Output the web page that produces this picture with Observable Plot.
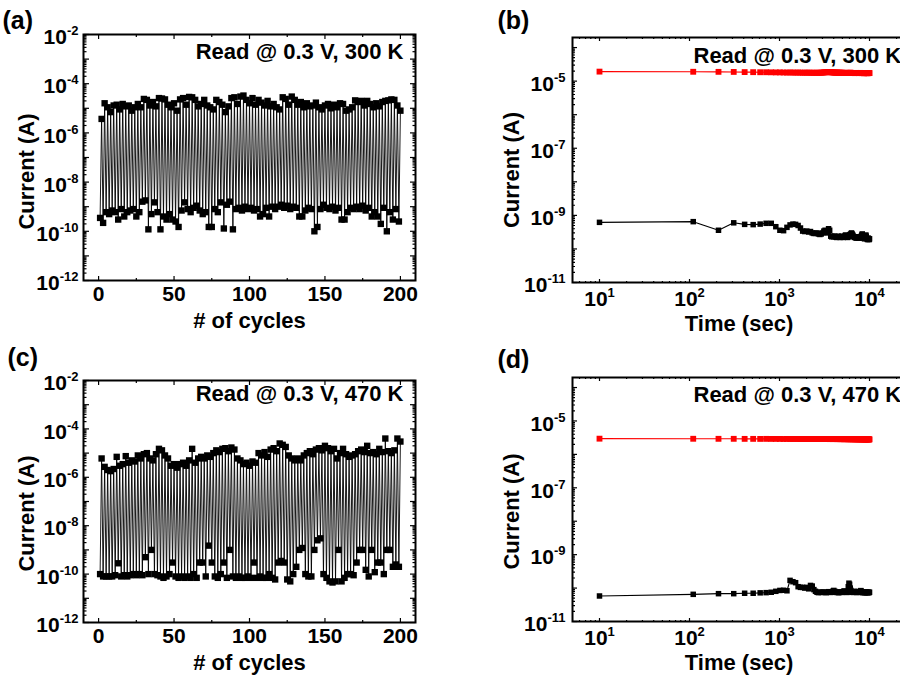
<!DOCTYPE html>
<html><head><meta charset="utf-8">
<script src="https://cdn.jsdelivr.net/npm/d3@7"></script>
<script src="https://cdn.jsdelivr.net/npm/@observablehq/plot@0.6"></script>
<style>
html,body{margin:0;padding:0;background:#fff;overflow:hidden;}
#wrap{position:relative;width:900px;height:678px;overflow:hidden;background:#fff;}
#wrap svg{position:absolute;overflow:visible;}
</style></head><body><div id="wrap"></div>
<script>
// ---------- DATA ----------
// Panel (a): endurance at 300 K. Low state read at odd cycles, high state at even cycles.
const aHigh = [3.7e-6,1.6e-5,1.1e-5,7e-6,1.3e-5,1.4e-5,9e-6,1.5e-5,1.2e-5,1.3e-5,
  8e-6,1.1e-5,1.5e-5,1.1e-5,2.4e-5,2.2e-5,1.3e-5,1.8e-5,1.2e-5,2.6e-5,
  2.5e-5,2.3e-5,1.4e-5,1.1e-5,1.6e-5,8e-6,2.3e-5,2.6e-5,1.4e-5,2.9e-5,
  2.8e-5,2.2e-5,1.2e-5,1.5e-5,2.2e-5,1.3e-5,1.1e-5,9e-6,2.2e-5,1.8e-5,
  1.4e-5,7e-6,1.2e-5,2.6e-5,2.8e-5,1.5e-5,3.0e-5,3.3e-5,2.2e-5,1.6e-5,
  2.6e-5,1.4e-5,2.2e-5,1.7e-5,1.3e-5,2.0e-5,1.2e-5,1.5e-5,1.1e-5,9e-6,
  2.8e-5,2.4e-5,1.4e-5,3.0e-5,2.2e-5,1.4e-5,1.8e-5,1.1e-5,1.6e-5,1.2e-5,
  1.3e-5,1.7e-5,1.1e-5,9e-6,1.3e-5,1.5e-5,1.0e-5,1.4e-5,1.1e-5,1.6e-5,
  1.5e-5,8e-6,9e-6,1.1e-5,2.1e-5,1.8e-5,2.0e-5,1.3e-5,2.0e-5,1.5e-5,
  1.1e-5,1.6e-5,1.2e-5,1.8e-5,2.0e-5,2.1e-5,2.3e-5,2.2e-5,1.3e-5,8e-6];
const aLow = [3.5e-10,2.2e-10,6e-10,5e-10,7e-10,6e-10,3e-10,8e-10,4e-10,6e-10,
  7e-10,8e-10,4e-10,6e-10,1.6e-9,1.8e-9,1.2e-10,5e-10,1.5e-9,6e-10,
  1.2e-10,4e-10,3e-10,5e-10,3e-10,2.5e-10,1.5e-10,7e-10,1.5e-9,8e-10,
  6e-10,9e-10,1.1e-9,7e-10,5e-10,6e-10,1.5e-10,1.5e-10,8e-10,6e-10,
  1.5e-9,1.3e-10,1.2e-9,1.6e-9,1.2e-10,8e-10,9e-10,7e-10,1e-9,8e-10,
  9e-10,7e-10,8e-10,4e-10,5e-10,9e-10,4e-10,1e-9,8e-10,1e-9,
  1.2e-9,9e-10,1.1e-9,8e-10,1e-9,9e-10,4e-10,4e-10,7e-10,9e-10,
  8e-10,1e-10,1.5e-10,8e-10,1.2e-9,9e-10,8e-10,1e-9,7e-10,9e-10,
  3e-10,3e-10,6e-10,9e-10,8e-10,1e-9,8e-10,1.1e-9,7e-10,9e-10,
  4e-10,6e-10,4e-10,2e-10,9e-10,1e-10,6e-10,3e-10,8e-10,2.5e-10];

// Panel (c): endurance at 470 K.
const cHigh = [6e-6,2.7e-6,2e-6,1.8e-6,2.2e-6,7e-6,3e-6,3.5e-6,7.5e-6,4e-6,
  5e-6,4.5e-6,8e-6,6e-6,9e-6,1e-5,6e-6,5e-6,9e-6,1.5e-5,
  1.3e-5,8e-6,6e-6,3e-6,3.5e-6,2.5e-6,3.5e-6,4e-6,3e-6,5e-6,
  1.5e-5,4e-6,6e-6,7e-6,6e-6,8e-6,7e-6,1e-5,1.3e-5,1.1e-5,
  1.5e-5,1.6e-5,1.2e-5,1.7e-5,1.4e-5,6e-6,5e-6,3.5e-6,4e-6,3e-6,
  4.5e-6,4e-6,1e-5,8e-6,1.1e-5,7e-6,1.4e-5,1.6e-5,1.2e-5,2.5e-5,
  2.2e-5,1.8e-5,8e-6,6e-6,5e-6,6e-6,5e-6,8e-6,1e-5,1.2e-5,
  9e-6,1.4e-5,1.6e-5,1.3e-5,2e-5,1.6e-5,1.2e-5,1.5e-5,6e-6,1e-5,
  1.5e-5,9e-6,7e-6,8e-6,9e-6,1.2e-5,1.4e-5,1.1e-5,2e-5,1e-5,
  1.1e-5,9e-6,1.5e-5,1.1e-5,4e-5,1.2e-5,1e-5,1.3e-5,4e-5,3e-5];
const cLow = [1e-10,8e-11,8e-11,8e-11,8e-11,9e-11,2.8e-10,8e-11,9e-11,8e-11,
  9e-11,1e-10,9e-11,1e-10,9e-11,5e-10,1e-10,1e-9,1e-10,9e-11,
  8e-11,7e-11,8e-11,1e-10,3e-10,8e-11,7e-11,8e-11,7e-11,8e-11,
  7e-11,1e-10,7e-11,3e-10,3e-10,8e-11,1.5e-9,3e-10,8e-11,7e-11,
  1e-10,3e-10,7e-11,1e-9,8e-11,7e-11,8e-11,7e-11,7e-11,8e-11,
  7e-11,3e-10,7e-11,8e-11,7e-11,7e-11,1e-10,7e-11,6e-11,3e-10,
  3.5e-10,3e-10,6e-11,5e-11,1e-10,2e-10,1e-9,1.2e-9,1e-10,8e-11,
  8e-11,1e-9,2.5e-9,3e-9,1e-10,7e-11,5e-11,4.5e-11,5e-11,1e-9,
  5e-11,7e-11,1e-10,1e-10,9e-11,3e-10,1e-9,1e-9,1.5e-10,8e-11,
  1e-9,1.2e-10,3e-10,3e-10,1e-10,1e-9,1e-9,2e-10,2.5e-10,2e-10];

// Panels (b) and (d): retention, time in seconds.
const times = [10,110,210,310,410,510,610,710,810,910,1010,1110,1210,1310,1410,1510,1610,1710,1810,1910,
  2010,2110,2210,2310,2410,2510,2610,2710,2810,2910,3010,3110,3210,3310,3410,3510,3610,3710,3810,3910,
  4010,4110,4210,4310,4410,4510,4610,4710,4810,4910,5010,5110,5210,5310,5410,5510,5610,5710,5810,5910,
  6010,6110,6210,6310,6410,6510,6610,6710,6810,6910,7010,7110,7210,7310,7410,7510,7610,7710,7810,7910,
  8010,8110,8210,8310,8410,8510,8610,8710,8810,8910,9010,9110,9210,9310,9410,9510,9610,9710,9810,9910,10010];
const bHigh = [1.92e-5,1.90e-5,1.89e-5,1.88e-5,1.86e-5,1.85e-5,1.84e-5,1.84e-5,1.83e-5,1.82e-5,
  1.82e-5,1.81e-5,1.80e-5,1.81e-5,1.80e-5,1.79e-5,1.80e-5,1.79e-5,1.78e-5,1.79e-5,
  1.78e-5,1.79e-5,1.78e-5,1.77e-5,1.78e-5,1.77e-5,1.78e-5,1.77e-5,1.78e-5,1.79e-5,
  1.80e-5,1.82e-5,1.83e-5,1.84e-5,1.85e-5,1.86e-5,1.85e-5,1.84e-5,1.83e-5,1.82e-5,
  1.81e-5,1.80e-5,1.79e-5,1.80e-5,1.79e-5,1.78e-5,1.79e-5,1.78e-5,1.77e-5,1.78e-5,
  1.77e-5,1.76e-5,1.77e-5,1.76e-5,1.77e-5,1.76e-5,1.75e-5,1.76e-5,1.75e-5,1.76e-5,
  1.77e-5,1.78e-5,1.77e-5,1.76e-5,1.75e-5,1.74e-5,1.75e-5,1.74e-5,1.73e-5,1.74e-5,
  1.75e-5,1.76e-5,1.75e-5,1.74e-5,1.75e-5,1.74e-5,1.73e-5,1.74e-5,1.75e-5,1.76e-5,
  1.75e-5,1.74e-5,1.73e-5,1.74e-5,1.75e-5,1.74e-5,1.73e-5,1.72e-5,1.73e-5,1.74e-5,
  1.75e-5,1.74e-5,1.73e-5,1.74e-5,1.73e-5,1.72e-5,1.73e-5,1.74e-5,1.73e-5,1.74e-5,1.74e-5];
const bLow = [6.2e-10,6.5e-10,3.6e-10,6.0e-10,5.4e-10,5.3e-10,5.5e-10,5.8e-10,5.8e-10,4.6e-10,
  3.6e-10,3.5e-10,4.4e-10,5.2e-10,5.5e-10,5.4e-10,5.0e-10,4.2e-10,3.4e-10,3.3e-10,
  3.4e-10,3.2e-10,3.3e-10,3.0e-10,2.9e-10,2.9e-10,3.0e-10,2.8e-10,2.7e-10,2.8e-10,
  3.0e-10,3.4e-10,3.6e-10,3.3e-10,3.0e-10,4.0e-10,3.6e-10,2.4e-10,2.3e-10,2.4e-10,
  2.3e-10,2.4e-10,2.3e-10,2.2e-10,2.3e-10,2.4e-10,2.3e-10,2.2e-10,2.3e-10,2.4e-10,
  2.3e-10,2.2e-10,2.3e-10,2.4e-10,2.6e-10,2.5e-10,2.3e-10,2.2e-10,2.3e-10,2.4e-10,
  2.6e-10,2.7e-10,2.8e-10,3.0e-10,2.8e-10,2.6e-10,2.4e-10,2.3e-10,2.2e-10,2.3e-10,
  2.2e-10,2.1e-10,2.2e-10,2.3e-10,2.2e-10,2.1e-10,2.2e-10,2.3e-10,2.2e-10,2.1e-10,
  2.2e-10,2.4e-10,2.6e-10,2.8e-10,2.5e-10,2.3e-10,2.2e-10,2.1e-10,2.0e-10,2.1e-10,
  2.2e-10,2.6e-10,2.4e-10,2.1e-10,2.0e-10,1.9e-10,2.0e-10,2.1e-10,2.0e-10,1.9e-10,2.0e-10];
const dHigh = [2.95e-6,2.93e-6,2.92e-6,2.92e-6,2.91e-6,2.91e-6,2.90e-6,2.91e-6,2.90e-6,2.90e-6,
  2.90e-6,2.89e-6,2.90e-6,2.89e-6,2.89e-6,2.90e-6,2.89e-6,2.88e-6,2.89e-6,2.88e-6,
  2.89e-6,2.88e-6,2.88e-6,2.89e-6,2.88e-6,2.87e-6,2.88e-6,2.88e-6,2.87e-6,2.88e-6,
  2.87e-6,2.88e-6,2.87e-6,2.87e-6,2.88e-6,2.87e-6,2.86e-6,2.87e-6,2.87e-6,2.86e-6,
  2.87e-6,2.86e-6,2.87e-6,2.86e-6,2.86e-6,2.87e-6,2.86e-6,2.85e-6,2.86e-6,2.86e-6,
  2.85e-6,2.86e-6,2.85e-6,2.86e-6,2.85e-6,2.85e-6,2.86e-6,2.85e-6,2.84e-6,2.85e-6,
  2.85e-6,2.84e-6,2.85e-6,2.84e-6,2.85e-6,2.84e-6,2.84e-6,2.85e-6,2.84e-6,2.83e-6,
  2.84e-6,2.84e-6,2.83e-6,2.84e-6,2.83e-6,2.84e-6,2.83e-6,2.83e-6,2.84e-6,2.83e-6,
  2.82e-6,2.83e-6,2.83e-6,2.82e-6,2.83e-6,2.82e-6,2.83e-6,2.82e-6,2.82e-6,2.83e-6,
  2.82e-6,2.81e-6,2.82e-6,2.82e-6,2.81e-6,2.82e-6,2.81e-6,2.82e-6,2.81e-6,2.81e-6,2.81e-6];
const dLow = [5.8e-11,6.5e-11,6.8e-11,6.8e-11,7.0e-11,7.0e-11,7.2e-11,7.3e-11,7.5e-11,8.0e-11,
  8.5e-11,8.6e-11,8.3e-11,1.7e-10,1.55e-10,1.45e-10,1.1e-10,1.05e-10,1.05e-10,1.0e-10,
  1.05e-10,9.5e-11,1.2e-10,1.15e-10,9.0e-11,8.0e-11,7.5e-11,7.3e-11,7.5e-11,7.4e-11,
  7.6e-11,7.5e-11,7.4e-11,7.3e-11,7.5e-11,7.8e-11,7.6e-11,7.4e-11,7.5e-11,8.0e-11,
  8.5e-11,8.0e-11,7.6e-11,7.4e-11,7.5e-11,7.3e-11,7.4e-11,7.6e-11,7.5e-11,7.4e-11,
  7.6e-11,7.8e-11,8.2e-11,8.0e-11,7.6e-11,7.5e-11,7.4e-11,7.6e-11,1.1e-10,1.4e-10,
  1.3e-10,1.0e-10,8.5e-11,7.8e-11,7.6e-11,7.5e-11,7.4e-11,7.6e-11,8.0e-11,7.8e-11,
  7.6e-11,7.5e-11,7.4e-11,7.6e-11,7.8e-11,7.5e-11,7.4e-11,7.5e-11,7.6e-11,8.0e-11,
  8.4e-11,8.0e-11,7.6e-11,7.5e-11,7.4e-11,7.3e-11,7.5e-11,7.6e-11,7.4e-11,7.3e-11,
  7.4e-11,7.6e-11,7.5e-11,7.4e-11,7.3e-11,7.4e-11,7.5e-11,7.4e-11,7.3e-11,7.4e-11,7.5e-11];

// Tick labels
const cycleTicks = [0, 50, 100, 150, 200];
const cycleMinorTicks = [25, 75, 125, 175];
const enduranceYTicks = [1e-12, 1e-10, 1e-8, 1e-6, 1e-4, 1e-2];
const timeTicks = [1e1, 1e2, 1e3, 1e4];
const retentionYTicks = [1e-11, 1e-9, 1e-7, 1e-5];

const labelsTop = ["Read @ 0.3 V, 300 K", "Read @ 0.3 V, 470 K"];

// ---------- HELPERS ----------
const FONT = "'Liberation Sans', Arial, Helvetica, sans-serif";
const wrap = document.getElementById("wrap");

function interleave(low, high) {
  const out = [];
  for (let i = 0; i < low.length; i++) {
    out.push({cycle: 2 * i + 1, current: low[i]});
    if (i < high.length) out.push({cycle: 2 * i + 2, current: high[i]});
  }
  return out;
}
function series(t, v) { return t.map((d, i) => ({time: d, current: v[i]})); }

function decadesIn(lo, hi) {
  const out = [];
  for (let e = Math.ceil(Math.log10(lo) - 1e-9); e <= Math.floor(Math.log10(hi) + 1e-9); e++) out.push(Math.pow(10, e));
  return out;
}
function logMinor(lo, hi) {
  const out = [];
  for (let e = Math.floor(Math.log10(lo)); e <= Math.ceil(Math.log10(hi)); e++)
    for (let k = 2; k <= 9; k++) { const v = k * Math.pow(10, e); if (v >= lo && v <= hi) out.push(v); }
  return out;
}
const expFmt = d => "10^" + Math.round(Math.log10(d));
const blank = () => "";

function inY(values, size) {
  return [
    Plot.axisY(values, {anchor: "right", frameAnchor: "left", tickSize: size, tickFormat: blank, label: null, strokeWidth: 1.2}),
    Plot.axisY(values, {anchor: "left", frameAnchor: "right", tickSize: size, tickFormat: blank, label: null, strokeWidth: 1.2})
  ];
}
function inX(values, size) {
  return [
    Plot.axisX(values, {anchor: "top", frameAnchor: "bottom", tickSize: size, tickFormat: blank, label: null, strokeWidth: 1.2}),
    Plot.axisX(values, {anchor: "bottom", frameAnchor: "top", tickSize: size, tickFormat: blank, label: null, strokeWidth: 1.2})
  ];
}

function supify(svg) {
  svg.querySelectorAll("text").forEach(t => {
    const s = t.textContent;
    const i = s.indexOf("^");
    if (i < 0) return;
    t.textContent = "";
    t.appendChild(document.createTextNode(s.slice(0, i)));
    const ts = document.createElementNS("http://www.w3.org/2000/svg", "tspan");
    ts.setAttribute("font-size", "13");
    ts.setAttribute("dy", "-9");
    ts.textContent = s.slice(i + 1);
    t.appendChild(ts);
  });
}

function place(svg, left, top) {
  svg.style.left = left + "px";
  svg.style.top = top + "px";
  supify(svg);
  wrap.appendChild(svg);
}

const style = {fontFamily: FONT, fontWeight: "bold", fontSize: "21px", color: "black", background: "transparent", overflow: "visible"};

// ---------- ENDURANCE PANELS (a), (c) ----------
function endurance(data, letter, readLabel, m, letterPos, ylabDy, readDy) {
  const yDom = [1e-12, 1e-2];
  return Plot.plot({
    width: 450, height: 340,
    marginLeft: 83, marginRight: 35, marginTop: m.top, marginBottom: m.bottom,
    x: {type: "linear", domain: [-10, 210]},
    y: {type: "log", domain: yDom},
    style,
    marks: [
      Plot.line(data, {x: "cycle", y: "current", stroke: "black", strokeWidth: 0.9}),
      Plot.dot(data, {x: "cycle", y: "current", symbol: "square", r: 3.6, fill: "black"}),
      Plot.frame({stroke: "black", strokeWidth: 2}),
      ...inY(decadesIn(...yDom), 5),
      ...inY(logMinor(...yDom), 2.5),
      ...inX(cycleTicks, 5),
      ...inX(cycleMinorTicks, 3),
      Plot.axisY(enduranceYTicks, {anchor: "left", tickSize: 0, tickPadding: 5, tickFormat: expFmt, label: null, fontSize: 21, dy: 3}),
      Plot.axisX(cycleTicks, {anchor: "bottom", tickSize: 0, tickPadding: 6, tickFormat: d => String(d), label: null, fontSize: 21}),
      Plot.text(["# of cycles"], {frameAnchor: "bottom", dy: 40, lineAnchor: "middle", fontSize: 22}),
      Plot.text(["Current (A)"], {frameAnchor: "left", rotate: -90, dx: -57, dy: ylabDy, textAnchor: "middle", lineAnchor: "middle", fontSize: 22}),
      Plot.text([readLabel], {frameAnchor: "top-right", dx: -12, dy: readDy, textAnchor: "end", lineAnchor: "middle", fontSize: 22}),
      Plot.text([letter], {frameAnchor: "top-left", dx: letterPos[0], dy: letterPos[1], textAnchor: "start", lineAnchor: "middle", fontSize: 25})
    ]
  });
}

// ---------- RETENTION PANELS (b), (d) ----------
function retention(high, low, letter, readLabel, m, letterDy, ylabDy, readDy) {
  const xDom = [Math.pow(10, 0.7), Math.pow(10, 4.4)];
  const yDom = [1e-11, Math.pow(10, -3.7)];
  const hi = series(times, high), lo = series(times, low);
  return Plot.plot({
    width: 470, height: 340,
    marginLeft: 122, marginRight: 15, marginTop: m.top, marginBottom: m.bottom,
    x: {type: "log", domain: xDom},
    y: {type: "log", domain: yDom},
    style,
    marks: [
      Plot.line(hi, {x: "time", y: "current", stroke: "#ff0000", strokeWidth: 1.1}),
      Plot.dot(hi, {x: "time", y: "current", symbol: "square", r: 3.3, fill: "#ff0000"}),
      Plot.line(lo, {x: "time", y: "current", stroke: "black", strokeWidth: 1.1}),
      Plot.dot(lo, {x: "time", y: "current", symbol: "square", r: 3.1, fill: "black"}),
      Plot.frame({stroke: "black", strokeWidth: 2}),
      ...inY(decadesIn(...yDom), 4),
      ...inY(logMinor(...yDom), 2),
      ...inX(decadesIn(...xDom), 4),
      ...inX(logMinor(...xDom), 2),
      Plot.axisY(retentionYTicks, {anchor: "left", tickSize: 0, tickPadding: 7, tickFormat: expFmt, label: null, fontSize: 21, dy: 3}),
      Plot.axisX(timeTicks, {anchor: "bottom", tickSize: 0, tickPadding: 9, tickFormat: expFmt, label: null, fontSize: 21}),
      Plot.text(["Time (sec)"], {frameAnchor: "bottom", dy: 41.5, lineAnchor: "middle", fontSize: 22}),
      Plot.text(["Current (A)"], {frameAnchor: "left", rotate: -90, dx: -61, dy: ylabDy, textAnchor: "middle", lineAnchor: "middle", fontSize: 22}),
      Plot.text([readLabel], {frameAnchor: "top-left", dx: 121, dy: readDy, textAnchor: "start", lineAnchor: "middle", fontSize: 22}),
      Plot.text([letter], {frameAnchor: "top-left", dx: -75, dy: letterDy, textAnchor: "start", lineAnchor: "middle", fontSize: 25})
    ]
  });
}

place(endurance(interleave(aLow, aHigh), "(a)", labelsTop[0], {top: 34, bottom: 60}, [-81, -14], 14, 17.5), 0, 0);
place(endurance(interleave(cLow, cHigh), "(c)", labelsTop[1], {top: 42, bottom: 56}, [-76, -23], 12, 13.5), 0, 338);
place(retention(bHigh, bLow, "(b)", labelsTop[0], {top: 37, bottom: 58}, -17, 10, 18), 450, 0);
place(retention(dHigh, dLow, "(d)", labelsTop[1], {top: 39, bottom: 57}, -18, 12, 17.5), 450, 338);
</script></body></html>
